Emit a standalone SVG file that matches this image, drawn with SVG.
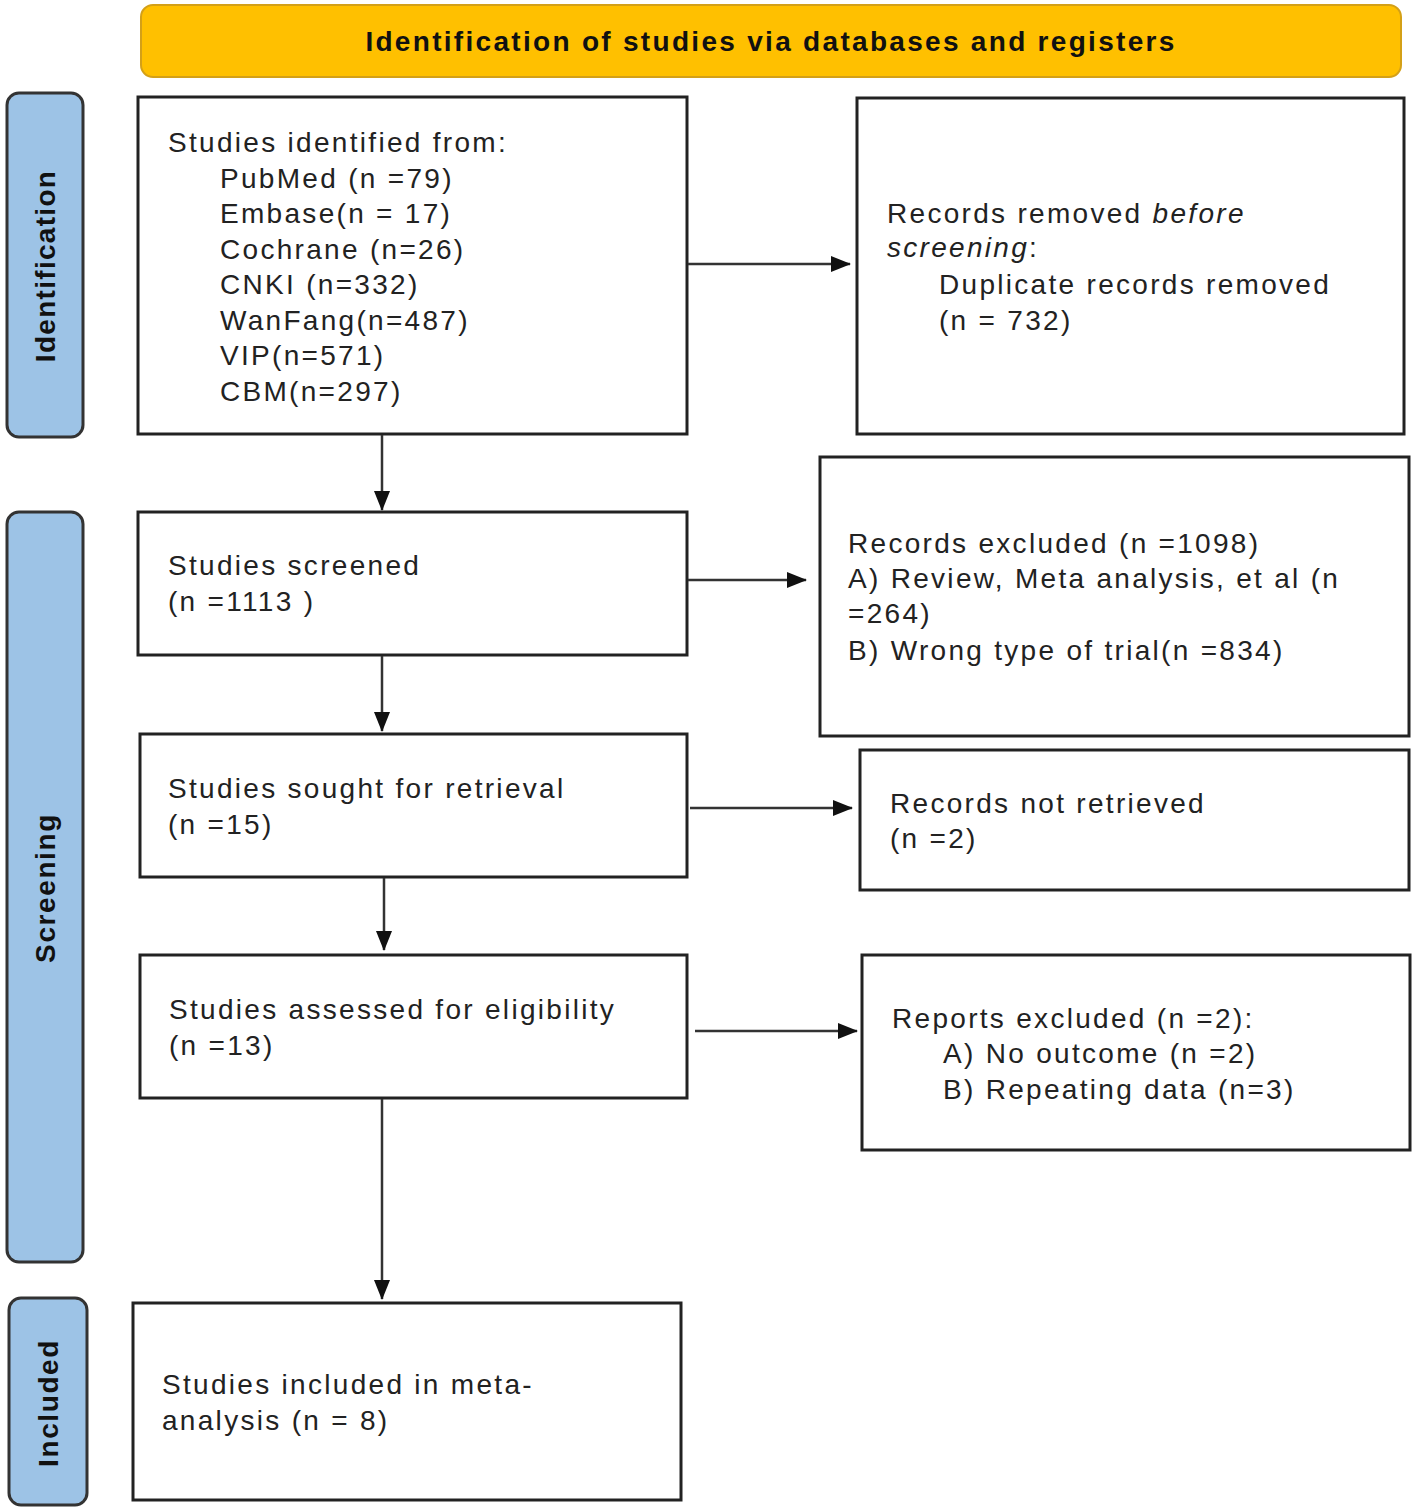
<svg xmlns="http://www.w3.org/2000/svg" width="1418" height="1511" viewBox="0 0 1418 1511">
<defs>
<marker id="ah" markerWidth="20" markerHeight="16" refX="19" refY="8" orient="auto" markerUnits="userSpaceOnUse" viewBox="0 0 20 16">
<path d="M0,0 L20,8 L0,16 Z" fill="#111"/>
</marker>
<style>
.box{fill:#fff;stroke:#222;stroke-width:3}
.side{fill:#9DC3E6;stroke:#333;stroke-width:3}
.t{font-family:"Liberation Sans",Arial,sans-serif;font-size:28px;letter-spacing:2.3px;fill:#222}
.b{font-family:"Liberation Sans",Arial,sans-serif;font-weight:bold;font-size:28px;fill:#111}
.c{stroke:#333;stroke-width:2.5;fill:none;marker-end:url(#ah)}
</style>
</defs>
<rect width="1418" height="1511" fill="#fff"/>
<g id="header">
<rect x="141" y="5" width="1260" height="72" rx="12" fill="#FFC000" stroke="#D4A017" stroke-width="2"/>
<text class="b" x="771" y="51" letter-spacing="2.3" text-anchor="middle">Identification of studies via databases and registers</text>
</g>
<g id="side-identification">
<rect class="side" x="7" y="93" width="76" height="344" rx="12"/>
<text class="b" letter-spacing="1.3" text-anchor="middle" transform="translate(55,266) rotate(-90)">Identification</text>
</g>
<g id="side-screening">
<rect class="side" x="7" y="512" width="76" height="750" rx="12"/>
<text class="b" letter-spacing="1.6" text-anchor="middle" transform="translate(55,888) rotate(-90)">Screening</text>
</g>
<g id="side-included">
<rect class="side" x="9" y="1298" width="78" height="207" rx="12"/>
<text class="b" letter-spacing="1.6" text-anchor="middle" transform="translate(58,1403) rotate(-90)">Included</text>
</g>
<g id="identified">
<rect class="box" x="138" y="97" width="549" height="337"/>
<text class="t" x="168" y="152">Studies identified from:</text>
<text class="t" x="220" y="188">PubMed (n =79)</text>
<text class="t" x="220" y="223">Embase(n = 17)</text>
<text class="t" x="220" y="259">Cochrane (n=26)</text>
<text class="t" x="220" y="294">CNKI (n=332)</text>
<text class="t" x="220" y="330">WanFang(n=487)</text>
<text class="t" x="220" y="365">VIP(n=571)</text>
<text class="t" x="220" y="401">CBM(n=297)</text>
</g>
<g id="removed">
<rect class="box" x="857" y="98" width="547" height="336"/>
<text class="t" x="887" y="223">Records removed <tspan font-style="italic">before</tspan></text>
<text class="t" x="887" y="257"><tspan font-style="italic">screening</tspan>:</text>
<text class="t" x="939" y="294">Duplicate records removed</text>
<text class="t" x="939" y="330">(n = 732)</text>
</g>
<g id="screened">
<rect class="box" x="138" y="512" width="549" height="143"/>
<text class="t" x="168" y="575">Studies screened</text>
<text class="t" x="168" y="611">(n =1113 )</text>
</g>
<g id="excluded">
<rect class="box" x="820" y="457" width="589" height="279"/>
<text class="t" x="848" y="553">Records excluded (n =1098)</text>
<text class="t" x="848" y="588">A) Review, Meta analysis, et al (n</text>
<text class="t" x="848" y="623">=264)</text>
<text class="t" x="848" y="660">B) Wrong type of trial(n =834)</text>
</g>
<g id="sought">
<rect class="box" x="140" y="734" width="547" height="143"/>
<text class="t" x="168" y="798">Studies sought for retrieval</text>
<text class="t" x="168" y="834">(n =15)</text>
</g>
<g id="notretrieved">
<rect class="box" x="860" y="750" width="549" height="140"/>
<text class="t" x="890" y="813">Records not retrieved</text>
<text class="t" x="890" y="848">(n =2)</text>
</g>
<g id="assessed">
<rect class="box" x="140" y="955" width="547" height="143"/>
<text class="t" x="169" y="1019">Studies assessed for eligibility</text>
<text class="t" x="169" y="1055">(n =13)</text>
</g>
<g id="reportsexcluded">
<rect class="box" x="862" y="955" width="548" height="195"/>
<text class="t" x="892" y="1028">Reports excluded (n =2):</text>
<text class="t" x="943" y="1063">A) No outcome (n =2)</text>
<text class="t" x="943" y="1099">B) Repeating data (n=3)</text>
</g>
<g id="included">
<rect class="box" x="133" y="1303" width="548" height="197"/>
<text class="t" x="162" y="1394">Studies included in meta-</text>
<text class="t" x="162" y="1430">analysis (n = 8)</text>
</g>
<g id="connectors">
<line class="c" x1="688" y1="264" x2="850" y2="264"/>
<line class="c" x1="382" y1="435" x2="382" y2="510"/>
<line class="c" x1="688" y1="580" x2="806" y2="580"/>
<line class="c" x1="382" y1="656" x2="382" y2="731"/>
<line class="c" x1="690" y1="808" x2="852" y2="808"/>
<line class="c" x1="384" y1="878" x2="384" y2="950"/>
<line class="c" x1="695" y1="1031" x2="857" y2="1031"/>
<line class="c" x1="382" y1="1099" x2="382" y2="1299"/>
</g>
</svg>
